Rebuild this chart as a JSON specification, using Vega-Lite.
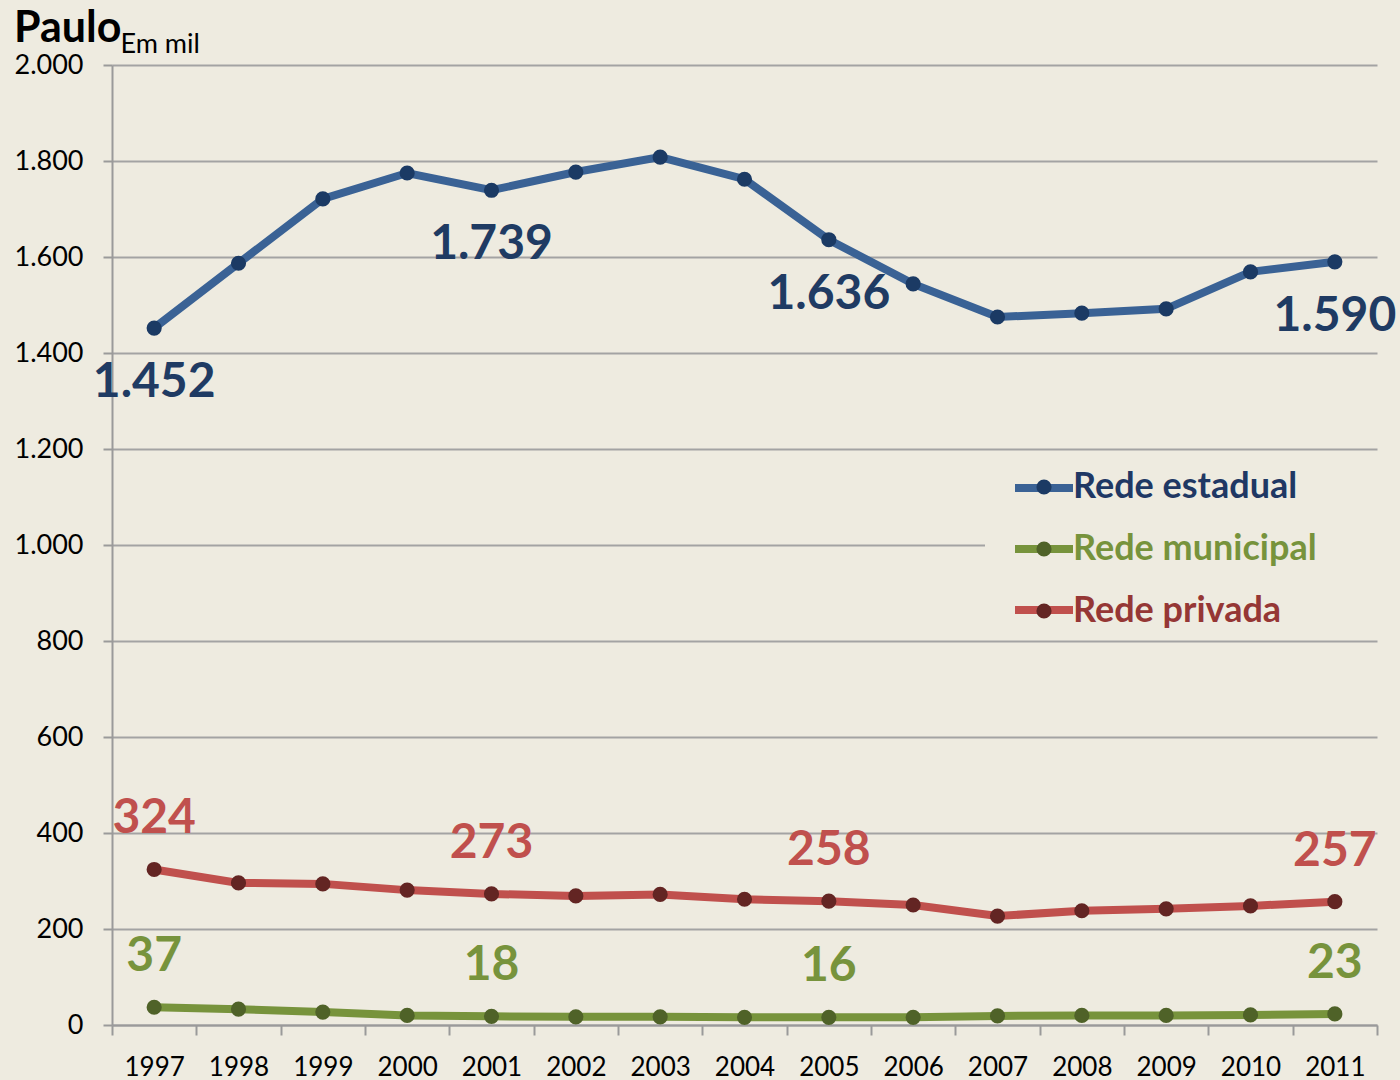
{
  "$schema": "https://vega.github.io/schema/vega-lite/v6.json",
  "width": 1265,
  "height": 960,
  "autosize": "none",
  "padding": {"left": 112, "top": 65, "right": 23, "bottom": 55},
  "background": "#EEEBE0",
  "config": {
    "locale": {"number": {"decimal": ",", "thousands": ".", "grouping": [3], "currency": ["R$", ""]}},
    "view": {"stroke": null},
    "font": "Lato"
  },
  "title": {"text": "Paulo", "anchor": "start", "frame": "group", "fontSize": 43, "fontWeight": "bold", "font": "Lato", "color": "#000000", "dx": -98, "baseline": "alphabetic", "offset": 0, "dy": 55},
  "data": {"values": [
    {"ano": 1997, "rede": "Rede estadual", "valor": 1452},
    {"ano": 1998, "rede": "Rede estadual", "valor": 1587},
    {"ano": 1999, "rede": "Rede estadual", "valor": 1721},
    {"ano": 2000, "rede": "Rede estadual", "valor": 1775},
    {"ano": 2001, "rede": "Rede estadual", "valor": 1739},
    {"ano": 2002, "rede": "Rede estadual", "valor": 1777},
    {"ano": 2003, "rede": "Rede estadual", "valor": 1808},
    {"ano": 2004, "rede": "Rede estadual", "valor": 1762},
    {"ano": 2005, "rede": "Rede estadual", "valor": 1636},
    {"ano": 2006, "rede": "Rede estadual", "valor": 1544},
    {"ano": 2007, "rede": "Rede estadual", "valor": 1475},
    {"ano": 2008, "rede": "Rede estadual", "valor": 1483},
    {"ano": 2009, "rede": "Rede estadual", "valor": 1492},
    {"ano": 2010, "rede": "Rede estadual", "valor": 1569},
    {"ano": 2011, "rede": "Rede estadual", "valor": 1590},
    {"ano": 1997, "rede": "Rede municipal", "valor": 37},
    {"ano": 1998, "rede": "Rede municipal", "valor": 33},
    {"ano": 1999, "rede": "Rede municipal", "valor": 27},
    {"ano": 2000, "rede": "Rede municipal", "valor": 20},
    {"ano": 2001, "rede": "Rede municipal", "valor": 18},
    {"ano": 2002, "rede": "Rede municipal", "valor": 17},
    {"ano": 2003, "rede": "Rede municipal", "valor": 17},
    {"ano": 2004, "rede": "Rede municipal", "valor": 16},
    {"ano": 2005, "rede": "Rede municipal", "valor": 16},
    {"ano": 2006, "rede": "Rede municipal", "valor": 16},
    {"ano": 2007, "rede": "Rede municipal", "valor": 19},
    {"ano": 2008, "rede": "Rede municipal", "valor": 20},
    {"ano": 2009, "rede": "Rede municipal", "valor": 20},
    {"ano": 2010, "rede": "Rede municipal", "valor": 21},
    {"ano": 2011, "rede": "Rede municipal", "valor": 23},
    {"ano": 1997, "rede": "Rede privada", "valor": 324},
    {"ano": 1998, "rede": "Rede privada", "valor": 296},
    {"ano": 1999, "rede": "Rede privada", "valor": 294},
    {"ano": 2000, "rede": "Rede privada", "valor": 281},
    {"ano": 2001, "rede": "Rede privada", "valor": 273},
    {"ano": 2002, "rede": "Rede privada", "valor": 269},
    {"ano": 2003, "rede": "Rede privada", "valor": 272},
    {"ano": 2004, "rede": "Rede privada", "valor": 262},
    {"ano": 2005, "rede": "Rede privada", "valor": 258},
    {"ano": 2006, "rede": "Rede privada", "valor": 250},
    {"ano": 2007, "rede": "Rede privada", "valor": 227},
    {"ano": 2008, "rede": "Rede privada", "valor": 238},
    {"ano": 2009, "rede": "Rede privada", "valor": 242},
    {"ano": 2010, "rede": "Rede privada", "valor": 248},
    {"ano": 2011, "rede": "Rede privada", "valor": 257}
  ]},
  "encoding": {
    "x": {
      "field": "ano", "type": "ordinal",
      "scale": {"type": "band", "paddingInner": 0, "paddingOuter": 0},
      "axis": {"title": null, "labelAngle": 0, "labelFontSize": 26, "labelColor": "#000000", "labelFont": "Lato", "tickBand": "extent", "tickSize": 10, "tickWidth": 2, "tickColor": "#9A9A9A", "domainColor": "#9A9A9A", "domainWidth": 2, "labelPadding": 19, "grid": false}
    },
    "y": {
      "field": "valor", "type": "quantitative",
      "scale": {"domain": [0, 2000], "nice": false},
      "axis": {"values": [0, 200, 400, 600, 800, 1000, 1200, 1400, 1600, 1800, 2000], "format": ",d", "title": "Em mil", "titleAngle": 0, "titleAlign": "left", "titleBaseline": "alphabetic", "titleX": 8, "titleY": -13, "titleFontSize": 27, "titleFontWeight": "normal", "titleFont": "Lato", "titleColor": "#000000", "labelFontSize": 27, "labelColor": "#000000", "labelFont": "Lato", "labelPadding": 20, "tickSize": 9, "tickWidth": 2, "tickColor": "#9A9A9A", "domainColor": "#9A9A9A", "domainWidth": 2, "grid": true, "gridColor": "#A3A3A3", "gridWidth": 2}
    }
  },
  "layer": [
    {
      "mark": {"type": "line", "strokeWidth": 8},
      "encoding": {
        "stroke": {
          "field": "rede", "type": "nominal",
          "scale": {"domain": ["Rede privada", "Rede municipal", "Rede estadual"], "range": ["#C0504D", "#77933C", "#3A6295"]},
          "legend": {"orient": "none", "legendX": 886, "legendY": 377, "title": null, "values": ["Rede estadual", "Rede municipal", "Rede privada"], "symbolType": "stroke", "symbolSize": 3364, "symbolStrokeWidth": 8, "labelExpr": "''", "labelFontSize": 36, "labelFontWeight": "bold", "labelFont": "Lato", "labelOffset": 2, "padding": 13, "rowPadding": 10, "zindex": 2}
        }
      }
    },
    {
      "mark": {"type": "point", "filled": true, "size": 230, "opacity": 1, "strokeWidth": 0},
      "encoding": {
        "fill": {
          "field": "rede", "type": "nominal",
          "scale": {"domain": ["Rede estadual", "Rede municipal", "Rede privada"], "range": ["#1B3A64", "#4F6228", "#632523"]},
          "legend": {"orient": "none", "legendX": 901, "legendY": 391, "title": null, "symbolType": "circle", "symbolSize": 230, "symbolStrokeWidth": 0, "symbolOpacity": 1, "labelFontSize": 36, "labelFontWeight": "bold", "labelFont": "Lato", "labelLimit": 400, "labelOffset": 11, "padding": 13, "rowPadding": 26, "zindex": 3,
            "encode": {"labels": {"update": {"fill": {"signal": "datum.value === 'Rede estadual' ? '#1F3864' : datum.value === 'Rede municipal' ? '#77933C' : '#953735'"}}}}}
        }
      }
    },
    {
      "transform": [
        {"filter": {"field": "rede", "equal": "Rede estadual"}},
        {"filter": {"field": "ano", "oneOf": [1997, 2001, 2005, 2011]}}
      ],
      "mark": {"type": "text", "fontSize": 48, "fontWeight": "bold", "font": "Lato", "dy": 55, "baseline": "middle", "align": "center"},
      "encoding": {
        "text": {"field": "valor", "type": "quantitative", "format": ",d"},
        "color": {"field": "rede", "type": "nominal", "scale": {"domain": ["Rede municipal", "Rede estadual", "Rede privada"], "range": ["#77933C", "#1F3B63", "#C0504D"]},
          "legend": {"orient": "none", "legendX": 873, "legendY": 387, "title": null, "symbolType": "circle", "symbolSize": 1296, "symbolOpacity": 0, "symbolStrokeWidth": 0, "labelExpr": "''", "labelFontSize": 36, "labelOffset": 340, "padding": 10, "rowPadding": 29, "fillColor": "#EEEBE0", "zindex": 1}}
      }
    },
    {
      "transform": [
        {"filter": {"field": "rede", "oneOf": ["Rede municipal", "Rede privada"]}},
        {"filter": {"field": "ano", "oneOf": [1997, 2001, 2005, 2011]}}
      ],
      "mark": {"type": "text", "fontSize": 48, "fontWeight": "bold", "font": "Lato", "dy": -50, "baseline": "middle", "align": "center"},
      "encoding": {
        "text": {"field": "valor", "type": "quantitative", "format": ",d"},
        "color": {"field": "rede", "type": "nominal", "scale": {"domain": ["Rede municipal", "Rede estadual", "Rede privada"], "range": ["#77933C", "#1F3B63", "#C0504D"]},
          "legend": {"orient": "none", "legendX": 873, "legendY": 387, "title": null, "symbolType": "circle", "symbolSize": 1296, "symbolOpacity": 0, "symbolStrokeWidth": 0, "labelExpr": "''", "labelFontSize": 36, "labelOffset": 340, "padding": 10, "rowPadding": 29, "fillColor": "#EEEBE0", "zindex": 1}}
      }
    }
  ]
}
